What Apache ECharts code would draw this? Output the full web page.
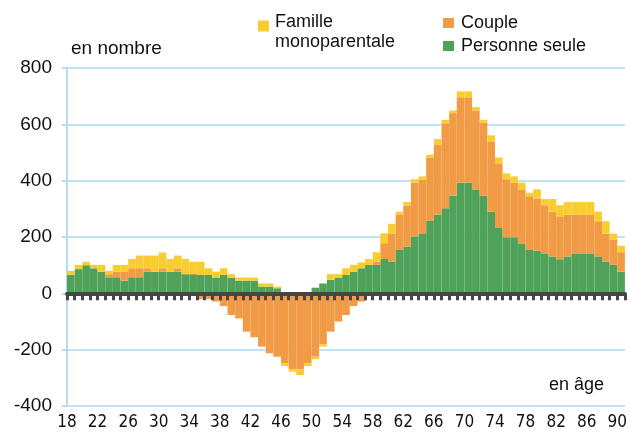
<!DOCTYPE html>
<html>
<head>
<meta charset="utf-8">
<script src="https://cdn.jsdelivr.net/npm/echarts@6/dist/echarts.min.js"></script>
<style>
  html, body { margin: 0; padding: 0; background: #fff; }
  #main { width: 630px; height: 436px; }
</style>
</head>
<body>
<div id="main"></div>
<script>
var dom = document.getElementById("main");
var myChart;

var ages = [18, 19, 20, 21, 22, 23, 24, 25, 26, 27, 28, 29, 30, 31, 32, 33, 34, 35, 36, 37,
    38, 39, 40, 41, 42, 43, 44, 45, 46, 47, 48, 49, 50, 51, 52, 53, 54, 55, 56, 57,
    58, 59, 60, 61, 62, 63, 64, 65, 66, 67, 68, 69, 70, 71, 72, 73, 74, 75, 76, 77,
    78, 79, 80, 81, 82, 83, 84, 85, 86, 87, 88, 89, 90];

// graduations de l'axe du bas (en bord de barre, une de plus que les âges)
var tickAges = ages.concat([91]);

var personneSeule = [65, 86, 100, 89, 77, 57, 57, 45, 57, 57, 77, 77, 77, 77, 77, 68, 68, 65, 65, 56,
    65, 56, 45, 45, 45, 24, 24, 18, 0, 0, 0, 0, 20, 35, 48, 56, 65, 77, 89, 101,
    101, 122, 113, 154, 166, 202, 213, 257, 279, 302, 347, 393, 393, 369, 346, 290, 232, 199, 199, 175,
    154, 151, 142, 131, 121, 131, 142, 142, 142, 131, 113, 101, 77];

var couple = [0, -8, 0, -8, 0, 11, 20, 32, 32, 32, 12, 0, 12, 0, 12, 0, -8, -21, -21, -29,
    -45, -77, -89, -136, -156, -189, -213, -225, -248, -270, -270, -248, -225, -181, -136, -100, -77, -45, -29, -9,
    12, 56, 98, 125, 145, 191, 190, 225, 248, 302, 293, 303, 303, 280, 260, 249, 227, 206, 194, 194,
    191, 185, 171, 159, 150, 148, 137, 137, 137, 125, 99, 90, 69];

var familleMono = [15, 15, 12, 12, 24, 12, 24, 24, 33, 45, 45, 57, 56, 45, 45, 54, 44, 47, 24, 21,
    24, 12, 11, 11, 11, 11, 11, 6, -10, -8, -20, -10, -9, -8, 20, 12, 24, 24, 21, 21,
    33, 35, 36, 11, 13, 12, 12, 10, 21, 12, 9, 21, 21, 12, 10, 22, 23, 21, 22, 24,
    12, 33, 22, 45, 42, 45, 45, 45, 45, 34, 44, 21, 23];

var font = "'Liberation Sans', Arial, sans-serif";
var fontNarrow = "'Liberation Sans Narrow', 'DejaVu Sans Condensed', 'Liberation Sans', sans-serif";

var option = {
    backgroundColor: '#ffffff',
    animation: false,

    legend: [
        {
            data: ['Famille monoparentale'],
            left: 258,
            top: 12,
            padding: 0,
            itemWidth: 11,
            itemHeight: 23,
            icon: 'path://M0 0H10V10H0Z M0 21H0.05V21.05H0Z',
            formatter: function () { return 'Famille\nmonoparentale'; },
            textStyle: { fontFamily: font, fontSize: 18, color: '#111', lineHeight: 20, padding: [0, 0, 0, 1] }
        },
        {
            data: ['Couple', 'Personne seule'],
            orient: 'vertical',
            left: 443,
            top: 13,
            padding: 0,
            itemGap: 3,
            itemWidth: 11,
            itemHeight: 10,
            icon: 'rect',
            textStyle: { fontFamily: font, fontSize: 18, color: '#111', lineHeight: 20, padding: [0, 0, 0, 2] }
        }
    ],

    graphic: [
        { type: 'text', left: 71, top: 39, style: { text: 'en nombre', font: '19px ' + font, fill: '#111' } },
        { type: 'text', left: 549, top: 376, style: { text: 'en âge', font: '18px ' + font, fill: '#111' } }
    ],

    grid: { left: 67, right: 0, top: 68, bottom: 30 },

    xAxis: [
        {
            type: 'category',
            data: ages,
            z: 10,
            axisLine: { onZero: true, lineStyle: { color: '#454545', width: 4 } },
            axisTick: { show: true, interval: 0, length: 7, lineStyle: { color: '#454545', width: 3 } },
            axisLabel: { show: false },
            splitLine: { show: false }
        },
        {
            type: 'category',
            data: tickAges,
            boundaryGap: false,
            position: 'bottom',
            axisLine: { show: false, onZero: false },
            axisTick: { show: false },
            axisLabel: { interval: 3, margin: 8, fontFamily: fontNarrow, fontSize: 17, color: '#111' },
            splitLine: { show: false }
        }
    ],

    yAxis: {
        type: 'value',
        min: -400,
        max: 800,
        interval: 200,
        axisLine: { show: true, lineStyle: { color: '#b5daf3', width: 2 } },
        axisTick: { show: true, length: 5, lineStyle: { color: '#b5daf3', width: 2 } },
        axisLabel: { margin: 15, fontFamily: font, fontSize: 19, color: '#111' },
        splitLine: { lineStyle: { color: '#c2e1f6', width: 2 } }
    },

    series: [
        {
            name: 'Personne seule',
            type: 'bar',
            stack: 'total',
            barCategoryGap: '0%',
            data: personneSeule,
            itemStyle: { color: '#50a159' }
        },
        {
            name: 'Couple',
            type: 'bar',
            stack: 'total',
            barCategoryGap: '0%',
            data: couple,
            itemStyle: { color: '#f19b47' }
        },
        {
            name: 'Famille monoparentale',
            type: 'bar',
            stack: 'total',
            barCategoryGap: '0%',
            data: familleMono,
            itemStyle: { color: '#f9cd2f' }
        }
    ]
};

myChart = echarts.init(dom);
if (option && typeof option === "object") {
    myChart.setOption(option, true);
}
</script>
</body>
</html>
